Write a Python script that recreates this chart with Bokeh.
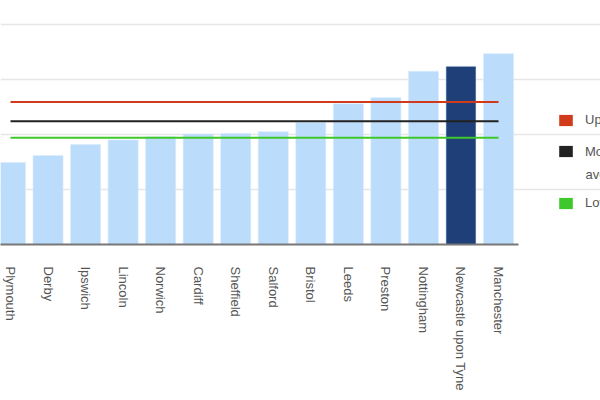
import math
from bokeh.plotting import figure
from bokeh.models import FixedTicker, Legend, LegendItem, ColumnDataSource, Label
from bokeh.embed import file_html
from bokeh.resources import INLINE

cities = ["Plymouth", "Derby", "Ipswich", "Lincoln", "Norwich", "Cardiff", "Sheffield",
          "Salford", "Bristol", "Leeds", "Preston", "Nottingham", "Newcastle upon Tyne", "Manchester"]
values = [14.9, 16.2, 18.2, 19.0, 19.6, 20.1, 20.2, 20.5, 22.2, 25.6, 26.7, 31.5, 32.4, 34.7]
highlight = "Newcastle upon Tyne"
upper = [25.9] * len(cities)
average = [22.4] * len(cities)
lower = [19.4] * len(cities)
y_ticks = [0, 10, 20, 30, 40]
legend_labels = ["Upper limit", "Monthly", "Lower limit"]
legend_second_line = "average"

RED, BLACK, GREEN = "#d13b1c", "#222222", "#3fc82b"

xs = list(range(len(cities)))
colors = ["#1e3f78" if c == highlight else "#bbdcfb" for c in cities]
src = ColumnDataSource(dict(x=xs, top=values, color=colors))

x0 = -0.2664
x_end = x0 + 600 / 37.54
plot_right = x0 + 518 / 37.54

p = figure(frame_width=600, frame_height=224, output_backend="svg", toolbar_location=None,
           x_range=(x0, x_end), y_range=(0, 40.73),
           min_border_left=0, min_border_top=20, min_border_right=0, min_border_bottom=0)
p.outline_line_color = None
p.background_fill_color = "white"

p.vbar(x="x", top="top", width=0.8, bottom=0, fill_color="color", line_color="#d8ebfd",
       line_width=1, line_alpha=0.6, source=src)

p.line(xs, upper, line_color=RED, line_width=2)
p.line(xs, average, line_color=BLACK, line_width=2)
p.line(xs, lower, line_color=GREEN, line_width=2)

# zero-height bars that only serve as square swatches for the legend
sw = [p.vbar(x=xs, top=vals, bottom=vals, width=0.8, fill_color=c, line_color=None)
      for vals, c in ((upper, RED), (average, BLACK), (lower, GREEN))]

p.yaxis.visible = False
p.ygrid.ticker = FixedTicker(ticks=y_ticks[1:])
p.ygrid.grid_line_color = "#e6e6e6"
p.ygrid.grid_line_width = 1.5
p.ygrid.bounds = (x0, plot_right)
p.xgrid.visible = False

ax = p.xaxis[0]
ax.ticker = FixedTicker(ticks=xs)
ax.bounds = (x0, plot_right)
ax.major_label_overrides = {i: c for i, c in enumerate(cities)}
ax.major_label_orientation = -math.pi / 2
ax.major_tick_line_color = None
ax.minor_tick_line_color = None
ax.axis_line_color = "#777777"
ax.axis_line_width = 2
ax.major_label_text_font = "Liberation Sans"
ax.major_label_text_font_size = "13px"
ax.major_label_text_color = "#555555"
ax.major_label_standoff = 16

for lab, r, vy in zip(legend_labels, sw, [117, 85.5, 34]):
    lg = Legend(items=[LegendItem(label=lab, renderers=[r])], location=(557, vy), padding=0,
                border_line_color=None, background_fill_alpha=0, glyph_width=17, glyph_height=14,
                label_text_font="Liberation Sans", label_text_font_size="13px",
                label_text_color="#555555", label_standoff=11, margin=0)
    p.add_layout(lg)

p.add_layout(Label(x=x0 + 585 / 37.54, y=(244 - 174) / 5.5, text=legend_second_line,
                   text_font="Liberation Sans", text_font_size="13px", text_color="#555555",
                   text_baseline="middle", text_align="left"))

open("out.html", "w").write(file_html(p, INLINE))
